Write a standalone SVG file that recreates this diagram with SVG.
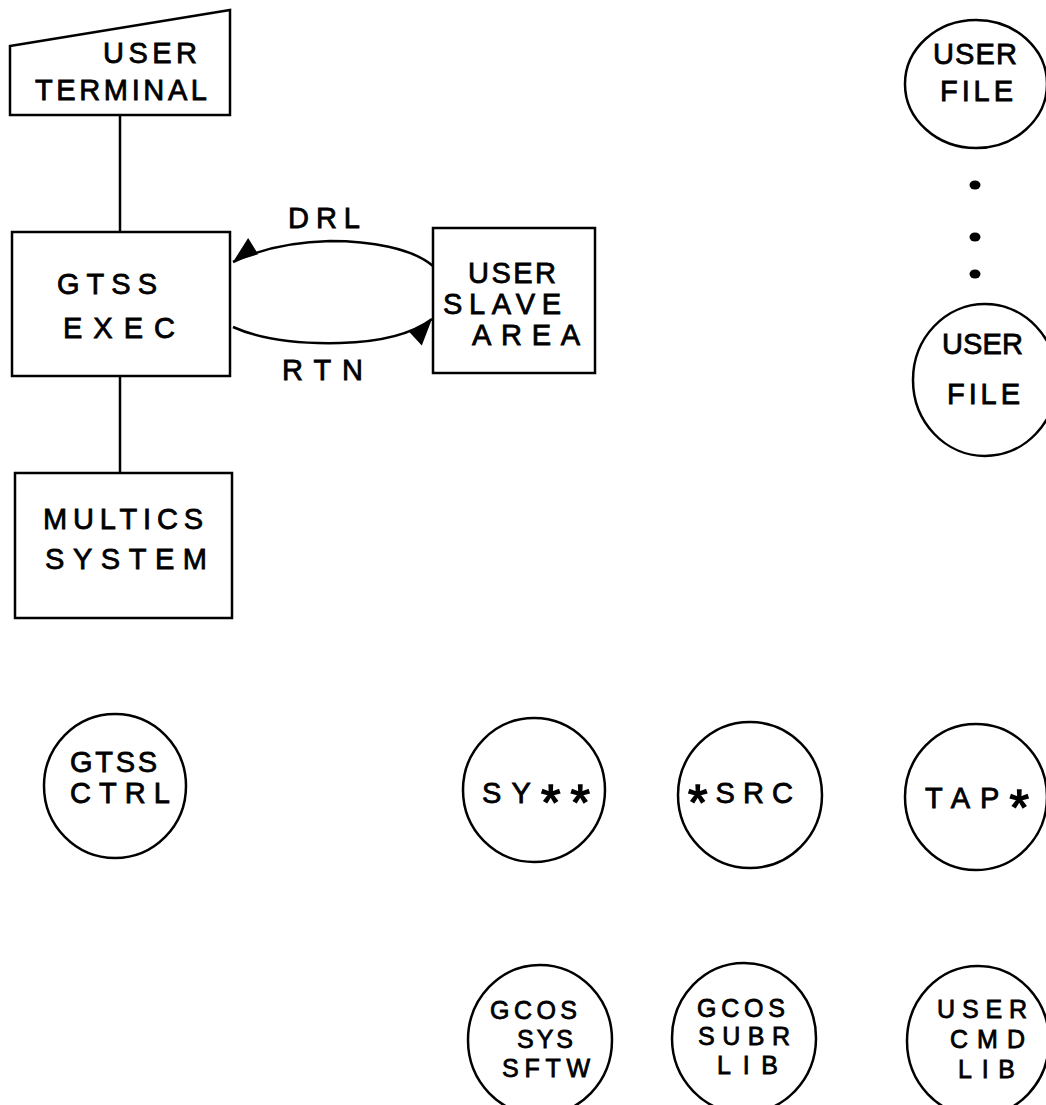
<svg xmlns="http://www.w3.org/2000/svg" width="1046" height="1105" viewBox="0 0 1046 1105">
<style>
  .shape { fill: none; stroke: #000; stroke-width: 2.5; }
  .conn { fill: none; stroke: #000; stroke-width: 2.5; }
  .lbl { font-family: "Liberation Sans", "DejaVu Sans", sans-serif; font-size: 29px; fill: #000; stroke: #000; stroke-width: 0.8; }
  .sm { font-size: 25px; }
  .star { font-size: 50px; stroke-width: 1.5; }
  .dot { fill: #000; }
</style>
<defs>
  <marker id="barb" markerUnits="userSpaceOnUse" markerWidth="40" markerHeight="40" refX="0" refY="0" viewBox="-30 -20 40 40" orient="auto" overflow="visible">
    <path d="M0,0 L-26,-4 L-24,15 Z" fill="#000"/>
  </marker>
</defs>
<rect width="1046" height="1105" fill="#fff"/>

<g id="connectors">
  <line class="conn" x1="120" y1="115" x2="120" y2="232"/>
  <line class="conn" x1="120" y1="376" x2="120" y2="473"/>
  <path id="drl" class="conn" d="M433,266 C412,248 370,241 330,241 C290,242 258,250 233,262" marker-end="url(#barb)"/>
  <path id="rtn" class="conn" d="M233,327 C262,340 300,344 340,343 C380,342 412,334 432,319" marker-end="url(#barb)"/>
  <text class="lbl" x="288" y="228" textLength="72" lengthAdjust="spacing">DRL</text>
  <text class="lbl" x="282" y="380" textLength="81" lengthAdjust="spacing">RTN</text>
</g>

<g id="user-terminal">
  <path class="shape" d="M10,46 L230,10 L230,115 L10,115 Z"/>
  <text class="lbl" x="103" y="63" textLength="94" lengthAdjust="spacing">USER</text>
  <text class="lbl" x="35" y="100" textLength="172" lengthAdjust="spacing">TERMINAL</text>
</g>

<g id="gtss-exec">
  <rect class="shape" x="12" y="232" width="218" height="144"/>
  <text class="lbl" x="57" y="294" textLength="100" lengthAdjust="spacing">GTSS</text>
  <text class="lbl" x="63" y="338" textLength="112" lengthAdjust="spacing">EXEC</text>
</g>

<g id="user-slave-area">
  <rect class="shape" x="433" y="228" width="162" height="145"/>
  <text class="lbl" x="468" y="283" textLength="88" lengthAdjust="spacing">USER</text>
  <text class="lbl" x="443" y="314" textLength="118" lengthAdjust="spacing">SLAVE</text>
  <text class="lbl" x="472" y="345" textLength="108" lengthAdjust="spacing">AREA</text>
</g>

<g id="multics-system">
  <rect class="shape" x="15" y="473" width="217" height="145"/>
  <text class="lbl" x="43" y="529" textLength="160" lengthAdjust="spacing">MULTICS</text>
  <text class="lbl" x="45" y="569" textLength="162" lengthAdjust="spacing">SYSTEM</text>
</g>

<g id="user-file-1">
  <ellipse class="shape" cx="976" cy="84" rx="71" ry="64"/>
  <text class="lbl" x="933" y="64" textLength="84" lengthAdjust="spacing">USER</text>
  <text class="lbl" x="940" y="101" textLength="73" lengthAdjust="spacing">FILE</text>
</g>

<g id="ellipsis-dots">
  <ellipse class="dot" cx="975" cy="185" rx="5.5" ry="4.5"/>
  <ellipse class="dot" cx="975" cy="237" rx="5.5" ry="4.5"/>
  <ellipse class="dot" cx="975" cy="274" rx="5.5" ry="4.5"/>
</g>

<g id="user-file-2">
  <ellipse class="shape" cx="985" cy="380" rx="72" ry="76"/>
  <text class="lbl" x="942" y="354" textLength="81" lengthAdjust="spacing">USER</text>
  <text class="lbl" x="947" y="404" textLength="73" lengthAdjust="spacing">FILE</text>
</g>

<g id="gtss-ctrl">
  <ellipse class="shape" cx="115" cy="786" rx="71" ry="72"/>
  <text class="lbl" x="70" y="772" textLength="87" lengthAdjust="spacing">GTSS</text>
  <text class="lbl" x="70" y="803" textLength="100" lengthAdjust="spacing">CTRL</text>
</g>

<g id="sy-star-star">
  <ellipse class="shape" cx="534" cy="790" rx="71" ry="72"/>
  <text class="lbl" x="482" y="803" textLength="108" lengthAdjust="spacing">SY<tspan class="star" dy="17">**</tspan></text>
</g>

<g id="star-src">
  <ellipse class="shape" cx="750" cy="795" rx="72" ry="73"/>
  <text class="lbl" x="688" y="820" textLength="105" lengthAdjust="spacing"><tspan class="star">*</tspan><tspan dy="-17">SRC</tspan></text>
</g>

<g id="tap-star">
  <ellipse class="shape" cx="976" cy="797" rx="71" ry="73"/>
  <text class="lbl" x="925" y="808" textLength="104" lengthAdjust="spacing">TAP<tspan class="star" dy="17">*</tspan></text>
</g>

<g id="gcos-sys-sftw">
  <ellipse class="shape" cx="540" cy="1040" rx="72" ry="75"/>
  <text class="lbl sm" x="490" y="1019" textLength="87" lengthAdjust="spacing">GCOS</text>
  <text class="lbl sm" x="517" y="1048" textLength="56" lengthAdjust="spacing">SYS</text>
  <text class="lbl sm" x="502" y="1077" textLength="88" lengthAdjust="spacing">SFTW</text>
</g>

<g id="gcos-subr-lib">
  <ellipse class="shape" cx="744" cy="1038" rx="72" ry="75"/>
  <text class="lbl sm" x="697" y="1017" textLength="88" lengthAdjust="spacing">GCOS</text>
  <text class="lbl sm" x="698" y="1045" textLength="92" lengthAdjust="spacing">SUBR</text>
  <text class="lbl sm" x="717" y="1074" textLength="61" lengthAdjust="spacing">LIB</text>
</g>

<g id="user-cmd-lib">
  <ellipse class="shape" cx="978" cy="1041" rx="71" ry="75"/>
  <text class="lbl sm" x="937" y="1018" textLength="90" lengthAdjust="spacing">USER</text>
  <text class="lbl sm" x="950" y="1048" textLength="75" lengthAdjust="spacing">CMD</text>
  <text class="lbl sm" x="958" y="1078" textLength="57" lengthAdjust="spacing">LIB</text>
</g>
</svg>
